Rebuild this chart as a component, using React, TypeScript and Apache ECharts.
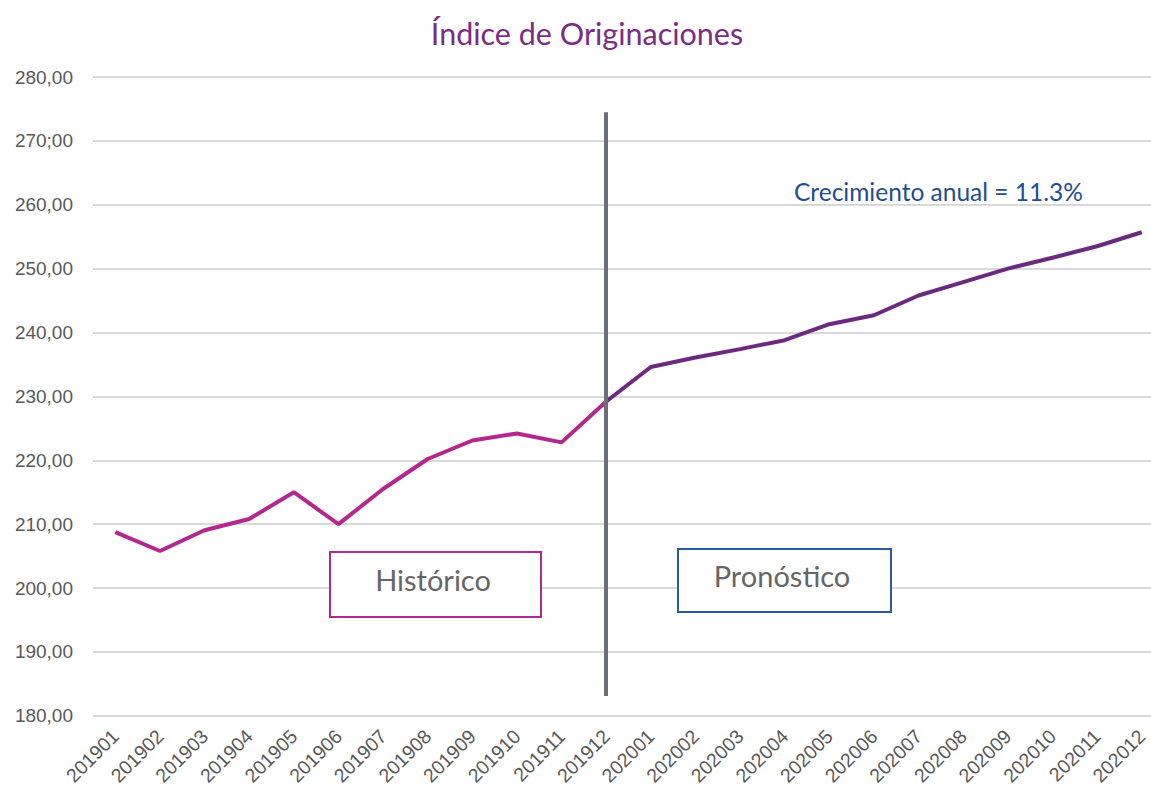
import React, { useEffect, useRef } from "react";
import * as echarts from "echarts";

const categories = [
  "201901", "201902", "201903", "201904", "201905", "201906", "201907", "201908",
  "201909", "201910", "201911", "201912", "202001", "202002", "202003", "202004",
  "202005", "202006", "202007", "202008", "202009", "202010", "202011", "202012",
];

const historico = [
  208.75, 205.8, 209.05, 210.8, 215.0, 210.0, 215.5, 220.2, 223.1, 224.2, 222.8, 229.2,
  null, null, null, null, null, null, null, null, null, null, null, null,
];

const pronostico = [
  null, null, null, null, null, null, null, null, null, null, null, 229.2,
  234.6, 236.1, 237.4, 238.8, 241.3, 242.7, 245.8, 247.9, 250.0, 251.7, 253.5, 255.7,
];

const yTickLabels = [
  "180,00", "190,00", "200,00", "210,00", "220,00", "230,00",
  "240,00", "250,00", "260,00", "270;00", "280,00",
];

const dividerCategory = "201912";
const dividerRange = [274.5, 183.1];

const titleText = "Índice de Originaciones";
const growthText = "Crecimiento anual = 11.3%";
const histLabel = "Histórico";
const forecastLabel = "Pronóstico";

export default function App() {
  const ref = useRef<HTMLDivElement>(null);
  useEffect(() => {
    if (!ref.current) return;
    const chart = echarts.init(ref.current, null, { renderer: "svg" });
    const annFont = "Lato, 'Open Sans', sans-serif";
    const axisFont = "'Liberation Sans', Arial, sans-serif";
    chart.setOption({
      animation: false,
      backgroundColor: "#ffffff",
      title: {
        text: titleText,
        left: 582,
        textAlign: "center",
        top: 12,
        textStyle: { color: "#7B2D84", fontSize: 30.5, fontWeight: "normal", fontFamily: annFont },
      },
      grid: { left: 93, right: 0, top: 77, height: 640 },
      xAxis: {
        type: "category",
        data: categories,
        boundaryGap: true,
        axisLine: { show: false },
        axisTick: { show: false },
        axisLabel: {
          rotate: 45,
          margin: 17,
          interval: 0,
          color: "#595959",
          fontSize: 19.5,
          fontFamily: axisFont,
        },
      },
      yAxis: {
        type: "value",
        min: 180,
        max: 280,
        interval: 10,
        axisLine: { show: false },
        axisTick: { show: false },
        splitLine: { lineStyle: { color: "#D9D9D9", width: 2 } },
        axisLabel: {
          margin: 20,
          color: "#595959",
          fontSize: 19,
          fontFamily: axisFont,
          formatter: (v: number) => yTickLabels[Math.round((v - 180) / 10)] ?? "",
        },
      },
      series: [
        {
          name: "Histórico",
          type: "line",
          data: historico,
          symbol: "none",
          lineStyle: { color: "#B4278F", width: 4 },
          z: 2,
        },
        {
          name: "Pronóstico",
          type: "line",
          data: pronostico,
          symbol: "none",
          lineStyle: { color: "#6C2A7E", width: 4 },
          z: 3,
          markLine: {
            silent: true,
            symbol: "none",
            label: { show: false },
            lineStyle: { color: "#6B6E72", width: 4, type: "solid" },
            data: [
              [
                { coord: [dividerCategory, dividerRange[0]] },
                { coord: [dividerCategory, dividerRange[1]] },
              ],
            ],
          },
        },
      ],
      graphic: [
        {
          type: "rect",
          left: 329,
          top: 551,
          shape: { width: 211, height: 65 },
          style: { fill: "#ffffff", stroke: "#B4278F", lineWidth: 2 },
          z: 10,
        },
        {
          type: "text",
          x: 433,
          y: 579,
          style: {
            text: histLabel,
            fill: "#666666",
            fontSize: 29,
            fontFamily: annFont,
            align: "center",
            verticalAlign: "middle",
          },
          z: 11,
        },
        {
          type: "rect",
          left: 677,
          top: 548,
          shape: { width: 213, height: 63 },
          style: { fill: "#ffffff", stroke: "#2A5CA3", lineWidth: 2 },
          z: 10,
        },
        {
          type: "text",
          x: 782,
          y: 575,
          style: {
            text: forecastLabel,
            fill: "#666666",
            fontSize: 29,
            fontFamily: annFont,
            align: "center",
            verticalAlign: "middle",
          },
          z: 11,
        },
        {
          type: "text",
          x: 794,
          y: 191,
          style: {
            text: growthText,
            fill: "#1F4E91",
            fontSize: 24.5,
            fontFamily: annFont,
            align: "left",
            verticalAlign: "middle",
          },
          z: 11,
        },
      ],
    });
    return () => chart.dispose();
  }, []);
  return (
    <div style={{ position: "absolute", left: 0, top: 0, width: 1151, height: 788, overflow: "hidden" }}>
      <div ref={ref} style={{ width: 1164, height: 788 }} />
    </div>
  );
}
